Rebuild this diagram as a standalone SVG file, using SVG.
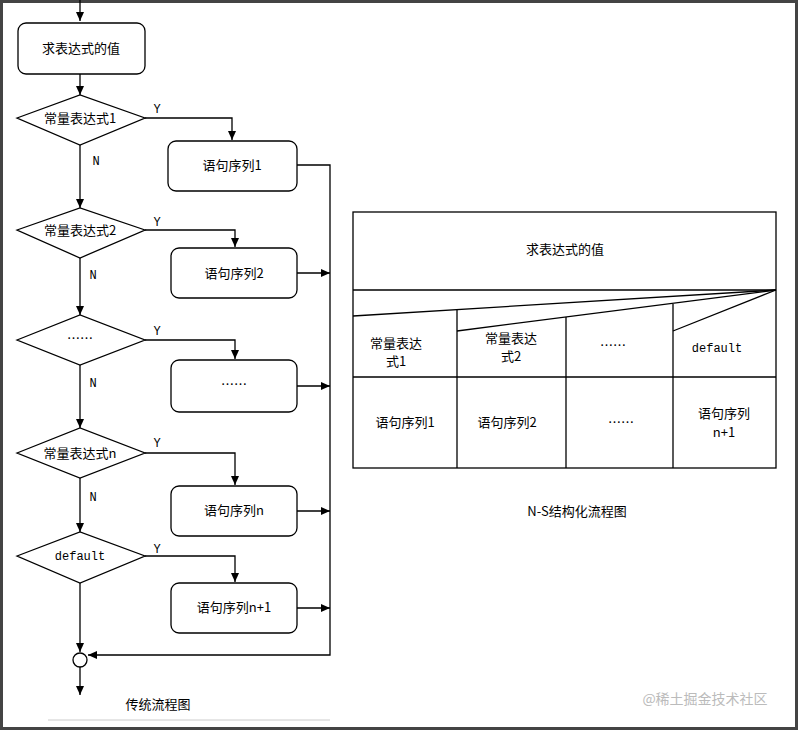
<svg xmlns="http://www.w3.org/2000/svg" width="798" height="730" viewBox="0 0 798 730">
<defs>
<marker id="a" markerWidth="10" markerHeight="10" refX="9" refY="5" orient="auto" markerUnits="userSpaceOnUse"><path d="M0,1 L9,5 L0,9 Z" fill="#000"/></marker>
<style>
.s{fill:#fff;stroke:#000;stroke-width:1.3}
.l{fill:none;stroke:#000;stroke-width:1.3}
.c{stroke:#000;stroke-width:1.3;fill:none;marker-end:url(#a)}
text{font-family:"SimSun","Noto Sans CJK SC",sans-serif;font-size:13px;fill:#000;text-anchor:middle}
.m{font-family:"Liberation Mono",monospace;font-size:12px}
</style>
</defs>
<rect width="798" height="730" fill="#fff"/>
<rect x="1.5" y="1.5" width="795" height="727" fill="none" stroke="#444" stroke-width="3"/>
<g id="connectors">
<path class="c" d="M80,0 V21"/>
<path class="c" d="M80,74 V95"/>
<path class="c" d="M145,118 H232 V140"/>
<path class="c" d="M80,145 V208"/>
<path class="c" d="M145,230 H235 V247"/>
<path class="c" d="M80,258 V315"/>
<path class="c" d="M145,340 H235 V359"/>
<path class="c" d="M80,365 V428"/>
<path class="c" d="M145,453 H235 V485"/>
<path class="c" d="M80,478 V532"/>
<path class="c" d="M145,556 H235 V582"/>
<path class="c" d="M80,583 V652"/>
<path class="c" d="M297,165 H330 V655 H88"/>
<path class="c" d="M297,273 H330"/>
<path class="c" d="M297,386 H330"/>
<path class="c" d="M297,511 H330"/>
<path class="c" d="M297,608 H330"/>
<path class="c" d="M80,667 V695"/>
</g>
<g id="n0"><rect class="s" x="18" y="23" width="127" height="51" rx="8"/><text x="81" y="53">求表达式的值</text></g>
<g id="d1"><polygon class="s" points="17,118 80,95 145,118 80,145"/><text x="80" y="123">常量表达式1</text></g>
<g id="b1"><rect class="s" x="168" y="141" width="129" height="50" rx="8"/><text x="232" y="170">语句序列1</text></g>
<g id="d2"><polygon class="s" points="17,230 80,208 145,230 80,258"/><text x="80" y="235">常量表达式2</text></g>
<g id="b2"><rect class="s" x="171" y="248" width="126" height="50" rx="8"/><text x="234" y="278">语句序列2</text></g>
<g id="d3"><polygon class="s" points="17,340 80,315 145,340 80,365"/><text x="80" y="343">……</text></g>
<g id="b3"><rect class="s" x="171" y="360" width="126" height="52" rx="8"/><text x="234" y="389">……</text></g>
<g id="d4"><polygon class="s" points="17,453 80,428 145,453 80,478"/><text x="80" y="458">常量表达式n</text></g>
<g id="b4"><rect class="s" x="171" y="486" width="126" height="50" rx="8"/><text x="234" y="515">语句序列n</text></g>
<g id="d5"><polygon class="s" points="17,556 80,532 145,556 80,583"/><text class="m" x="80" y="560">default</text></g>
<g id="b5"><rect class="s" x="171" y="583" width="126" height="50" rx="8"/><text x="234" y="612">语句序列n+1</text></g>
<g id="join"><circle class="s" cx="80" cy="660" r="7"/></g>
<g id="labels">
<text class="m" x="157" y="113">Y</text><text class="m" x="96" y="165">N</text>
<text class="m" x="157" y="226">Y</text><text class="m" x="93" y="279">N</text>
<text class="m" x="157" y="335">Y</text><text class="m" x="93" y="387">N</text>
<text class="m" x="157" y="447">Y</text><text class="m" x="93" y="501">N</text>
<text class="m" x="157" y="553">Y</text>
<text x="158" y="709">传统流程图</text>
</g>
<line x1="48" y1="720" x2="330" y2="720" stroke="#ccc"/>
<g id="ns">
<rect class="l" x="353" y="212" width="423" height="256"/>
<line class="l" x1="353" y1="290" x2="776" y2="290"/>
<line class="l" x1="353" y1="316" x2="776" y2="290"/>
<line class="l" x1="457" y1="331" x2="776" y2="290"/>
<line class="l" x1="673" y1="331" x2="776" y2="290"/>
<line class="l" x1="457" y1="309" x2="457" y2="468"/>
<line class="l" x1="566" y1="317" x2="566" y2="468"/>
<line class="l" x1="673" y1="304" x2="673" y2="468"/>
<line class="l" x1="353" y1="377" x2="776" y2="377"/>
<text x="565" y="254">求表达式的值</text>
<text x="396" y="348">常量表达</text><text x="396" y="366">式1</text>
<text x="511" y="343">常量表达</text><text x="511" y="361">式2</text>
<text x="613" y="350">……</text>
<text class="m" x="717" y="352">default</text>
<text x="405" y="427">语句序列1</text>
<text x="507" y="427">语句序列2</text>
<text x="621" y="427">……</text>
<text x="724" y="418">语句序列</text><text x="724" y="437">n+1</text>
<text x="577" y="516">N-S结构化流程图</text>
</g>
<text x="705" y="704" style="fill:#bbb;font-size:14px;font-family:'Noto Sans CJK SC',sans-serif">@稀土掘金技术社区</text>
</svg>
